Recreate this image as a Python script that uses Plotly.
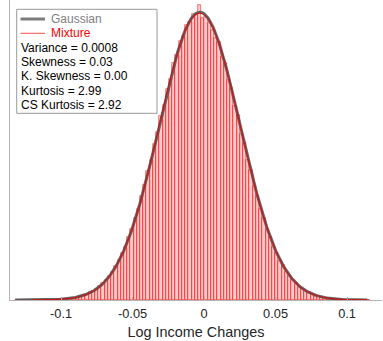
import numpy as np
import plotly.graph_objects as go

# Histogram of log income changes (density), equal-width bins
bin_start = -0.1325
bin_width = 0.00225
hist_density = [
    0.002, 0.000, 0.003, 0.002, 0.004, 0.003, 0.005, 0.006, 0.008, 0.010,
    0.012, 0.016, 0.024, 0.030, 0.043, 0.050, 0.072, 0.088, 0.120, 0.150,
    0.190, 0.240, 0.280, 0.380, 0.440, 0.560, 0.670, 0.830, 0.980, 1.200,
    1.390, 1.690, 1.940, 2.310, 2.620, 3.090, 3.470, 4.020, 4.470, 5.100,
    5.620, 6.330, 6.880, 7.660, 8.210, 9.020, 9.550, 10.35, 10.85, 11.60,
    12.02, 12.70, 12.95, 13.48, 13.62, 14.00, 13.95, 14.45, 13.80, 13.85,
    13.55, 13.25, 12.85, 12.66, 11.90, 11.62, 10.78, 10.40, 9.500, 9.050,
    8.150, 7.680, 6.850, 6.350, 5.580, 5.120, 4.450, 4.030, 3.460, 3.100,
    2.610, 2.310, 1.930, 1.700, 1.380, 1.200, 0.970, 0.840, 0.660, 0.560,
    0.440, 0.380, 0.280, 0.240, 0.180, 0.150, 0.110, 0.090, 0.068, 0.054,
    0.040, 0.032, 0.022, 0.018, 0.012, 0.010, 0.007, 0.005, 0.004, 0.003,
]

# Fitted Gaussian: stated variance and sample mean
gauss_variance = 0.0008
gauss_mean = -0.003
gauss_x_min, gauss_x_max = -0.132, 0.114

# Mixture density evaluated on a grid
mix_x = [
    -0.120, -0.115, -0.110, -0.105, -0.100, -0.095, -0.090, -0.085, -0.080,
    -0.075, -0.070, -0.065, -0.060, -0.055, -0.050, -0.045, -0.040, -0.035,
    -0.030, -0.025, -0.020, -0.015, -0.010, -0.005, 0.000, 0.005, 0.010,
    0.015, 0.020, 0.025, 0.030, 0.035, 0.040, 0.045, 0.050, 0.055, 0.060,
    0.065, 0.070, 0.075, 0.080, 0.085, 0.090, 0.095, 0.100, 0.105, 0.110,
    0.116,
]
mix_y = [
    0.004, 0.007, 0.012, 0.022, 0.040, 0.070, 0.122, 0.208, 0.345,
    0.552, 0.856, 1.280, 1.865, 2.620, 3.560, 4.700, 6.010, 7.450,
    8.960, 10.44, 11.77, 12.88, 13.66, 14.03, 13.99, 13.53, 12.68,
    11.52, 10.14, 8.650, 7.150, 5.740, 4.460, 3.360, 2.450, 1.735, 1.185,
    0.790, 0.508, 0.318, 0.192, 0.112, 0.064, 0.035, 0.019, 0.010, 0.005,
    0.003,
]

tick_vals = [-0.1, -0.05, 0, 0.05, 0.1]
tick_text = ["-0.1", "-0.05", "0", "0.05", "0.1"]

stats_lines = [
    "Variance = 0.0008",
    "Skewness = 0.03",
    "K. Skewness = 0.00",
    "Kurtosis = 2.99",
    "CS Kurtosis = 2.92",
]

FONT = "Liberation Sans, Arial, Helvetica, sans-serif"
W, H = 383, 341
ML, MR, MT, MB = 10, 1, 0, 41
PW, PH = W - ML - MR, H - MT - MB

bin_centers = bin_start + bin_width * (np.arange(len(hist_density)) + 0.5)

gx = np.linspace(gauss_x_min, gauss_x_max, 400)
sd = np.sqrt(gauss_variance)
gy = np.exp(-0.5 * ((gx - gauss_mean) / sd) ** 2) / (sd * np.sqrt(2 * np.pi))

fig = go.Figure()
fig.add_trace(go.Bar(
    x=bin_centers, y=hist_density, width=bin_width,
    marker=dict(color="rgba(255,0,0,0.2)",
                line=dict(color="rgba(255,0,0,0.7)", width=0.7)),
    showlegend=False, hoverinfo="skip",
))
fig.add_trace(go.Scatter(
    x=gx, y=gy, mode="lines",
    line=dict(color="rgba(85,85,85,0.9)", width=3),
    showlegend=False, hoverinfo="skip",
))
fig.add_trace(go.Scatter(
    x=mix_x, y=mix_y, mode="lines",
    line=dict(color="rgba(235,0,0,0.9)", width=1, shape="spline"),
    showlegend=False, hoverinfo="skip",
))


def px(x):
    return (x - ML) / PW


def py(y):
    return (MT + PH - y) / PH


# Legend / statistics box
shapes = [
    dict(type="rect", xref="paper", yref="paper",
         x0=px(16.7), x1=px(157), y0=py(113.3), y1=py(9.3),
         line=dict(color="#9a9a9a", width=1), fillcolor="white", layer="above"),
    dict(type="line", xref="paper", yref="paper",
         x0=px(20.5), x1=px(45), y0=py(19), y1=py(19),
         line=dict(color="rgba(110,110,110,0.9)", width=3), layer="above"),
    dict(type="line", xref="paper", yref="paper",
         x0=px(20.5), x1=px(45), y0=py(33.3), y1=py(33.3),
         line=dict(color="rgba(255,60,60,0.9)", width=1), layer="above"),
]

annotations = [
    dict(text="Gaussian", x=px(48.5), y=py(19), xref="paper", yref="paper",
         xanchor="left", yanchor="middle", showarrow=False,
         font=dict(family=FONT, size=12, color="#808080")),
    dict(text="Mixture", x=px(48.5), y=py(33.3), xref="paper", yref="paper",
         xanchor="left", yanchor="middle", showarrow=False,
         font=dict(family=FONT, size=12, color="#ff0000")),
]
for i, line in enumerate(stats_lines):
    annotations.append(dict(
        text=line, x=px(19), y=py(47.7 + 14.35 * i), xref="paper", yref="paper",
        xanchor="left", yanchor="middle", showarrow=False,
        font=dict(family=FONT, size=12, color="black"),
    ))

x_lo = -0.1357
x_hi = x_lo + PW / 1430.0

fig.update_layout(
    width=W, height=H,
    margin=dict(l=ML, r=MR, t=MT, b=MB),
    paper_bgcolor="white", plot_bgcolor="white",
    bargap=0,
    shapes=shapes,
    annotations=annotations,
    font=dict(family=FONT, color="#262626"),
    xaxis=dict(
        range=[x_lo, x_hi],
        tickvals=tick_vals, ticktext=tick_text,
        ticks="inside", ticklen=3, tickcolor="#a8a8a8",
        ticklabelstandoff=2,
        tickfont=dict(family=FONT, size=12.8, color="#262626"),
        showline=True, linecolor="#b4b4b4", linewidth=1,
        showgrid=False, zeroline=False,
        title=dict(text="Log Income Changes",
                   font=dict(family=FONT, size=14.4, color="#262626"),
                   standoff=6),
    ),
    yaxis=dict(
        range=[0, 14.7],
        showticklabels=False, ticks="",
        showline=True, linecolor="#b4b4b4", linewidth=1,
        showgrid=False, zeroline=False,
    ),
)

fig.write_html("out.html")
